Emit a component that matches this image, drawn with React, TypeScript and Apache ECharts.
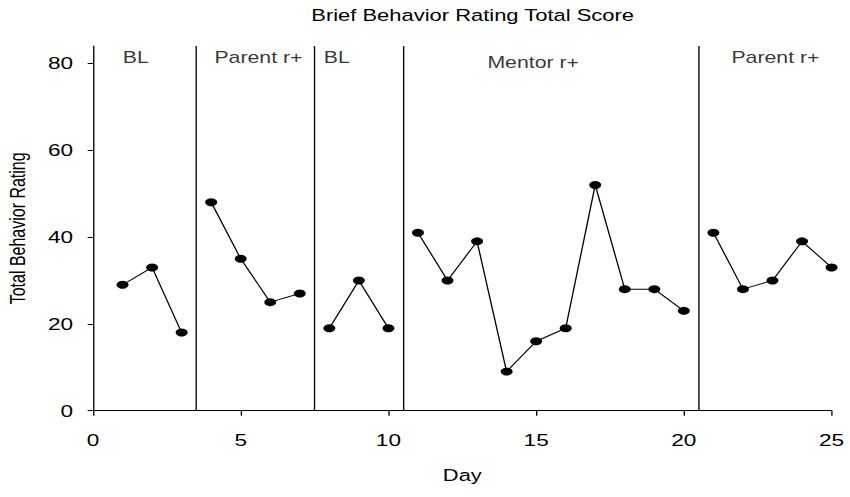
import React, { useEffect, useRef } from "react";
import * as echarts from "echarts";

const days = [1, 2, 3, 4, 5, 6, 7, 8, 9, 10, 11, 12, 13, 14, 15, 16, 17, 18, 19, 20, 21, 22, 23, 24, 25];
const scores = [29, 33, 18, 48, 35, 25, 27, 19, 30, 19, 41, 30, 39, 9, 16, 19, 52, 28, 28, 23, 41, 28, 30, 39, 33];
const phaseBreaks = [3.5, 7.5, 10.5, 20.5];
const phaseNames = ["BL", "Parent r+", "BL", "Mentor r+", "Parent r+"];
const phaseNameX = [1.45, 5.6, 8.25, 14.9, 23.1];
const phaseNameY = [81.4, 81.4, 81.4, 80.25, 81.4];
const yTicks = [0, 20, 40, 60, 80];
const xTicks = [0, 5, 10, 15, 20, 25];

const FONT = "Liberation Sans, Arial, sans-serif";
// the reference is drawn horizontally stretched
const SX = 1.33;
const W = 850 / SX;

export default function App() {
  const ref = useRef<HTMLDivElement>(null);
  useEffect(() => {
    if (!ref.current) return;
    const chart = echarts.init(ref.current, undefined, { renderer: "svg" });

    const bounds = [-Infinity, ...phaseBreaks, Infinity];
    const phaseSeries: any[] = [];
    for (let p = 0; p < bounds.length - 1; p++) {
      const pts = days
        .map((d, i) => [d, scores[i]])
        .filter((pt) => pt[0] > bounds[p] && pt[0] < bounds[p + 1]);
      phaseSeries.push({
        type: "line",
        data: pts,
        symbol: "circle",
        symbolSize: [9, 8],
        itemStyle: { color: "#000" },
        lineStyle: { color: "#000", width: 1 },
        z: 3,
        markLine:
          p === 0
            ? {
                silent: true,
                symbol: ["none", "none"],
                label: { show: false },
                lineStyle: { color: "#000", width: 1, type: "solid" },
                data: phaseBreaks.map((b) => ({ xAxis: b })),
              }
            : undefined,
      });
    }

    chart.setOption({
      animation: false,
      title: {
        text: "Brief Behavior Rating Total Score",
        left: 466 / SX,
        top: 2,
        textAlign: "center",
        textStyle: { fontFamily: FONT, fontSize: 16.5, fontWeight: "normal", color: "#000" },
      },
      grid: { left: 93 / SX, right: 18.3 / SX, top: 46, bottom: 86.3, outerBoundsMode: "none", containLabel: false },
      xAxis: {
        type: "value",
        min: 0,
        max: 25,
        interval: 5,
        offset: 3,
        name: "Day",
        nameLocation: "middle",
        nameGap: 53,
        nameTextStyle: { fontFamily: FONT, fontSize: 16.5, color: "#000" },
        axisLine: { lineStyle: { color: "#000", width: 1 } },
        axisTick: { show: true, length: 5, inside: false, customValues: xTicks, lineStyle: { color: "#000" } },
        axisLabel: { customValues: xTicks, fontFamily: FONT, fontSize: 17, color: "#000", margin: 18 },
        splitLine: { show: false },
      },
      yAxis: {
        type: "value",
        min: 0,
        max: 84,
        name: "Total Behavior Rating",
        nameLocation: "middle",
        nameGap: 49,
        nameTextStyle: { fontFamily: FONT, fontSize: 16, color: "#000" },
        axisLine: { show: true, lineStyle: { color: "#000", width: 1 } },
        axisTick: { show: true, length: 4, customValues: yTicks, lineStyle: { color: "#000" } },
        axisLabel: { customValues: yTicks, fontFamily: FONT, fontSize: 17, color: "#000", margin: 15 },
        splitLine: { show: false },
      },
      series: [
        ...phaseSeries,
        {
          type: "scatter",
          symbolSize: 0,
          silent: true,
          data: phaseNameX.map((x, i) => ({ value: [x, phaseNameY[i]], name: phaseNames[i] })),
          label: {
            show: true,
            position: "inside",
            formatter: (p: any) => p.name,
            fontFamily: FONT,
            fontSize: 16,
            color: "#000",
          },
        },
      ],
    });
    return () => chart.dispose();
  }, []);
  return (
    <div style={{ position: "fixed", left: 0, top: 0, width: 850, height: 497, overflow: "hidden", background: "#fff" }}>
      <div
        ref={ref}
        style={{
          width: W,
          height: 497,
          transform: `scaleX(${SX})`,
          transformOrigin: "0 0",
        }}
      />
    </div>
  );
}
